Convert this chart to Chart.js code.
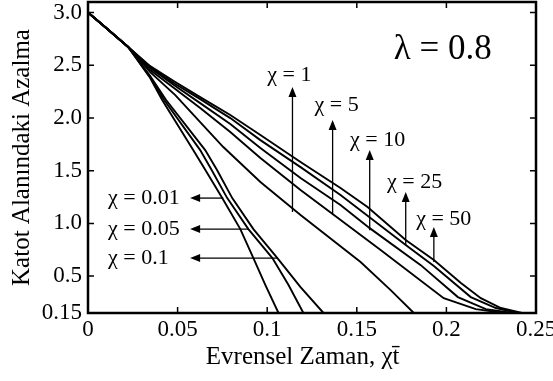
<!DOCTYPE html>
<html>
<head>
<meta charset="utf-8">
<script src="https://cdn.jsdelivr.net/npm/chart.js@4.4.1/dist/chart.umd.min.js"></script>
<style>
  html, body { margin: 0; padding: 0; background: #fff; }
  #wrap { width: 553px; height: 381px; }
</style>
</head>
<body>
<div id="wrap"><canvas id="chart" width="553" height="381"></canvas></div>
<script>
// axis ticks
var xTicks = [0, 0.05, 0.1, 0.15, 0.2, 0.25];
var xTickLabels = ['0', '0.05', '0.1', '0.15', '0.2', '0.25'];
var yTicks = [0.15, 0.5, 1.0, 1.5, 2.0, 2.5, 3.0];
var yTickLabels = ['0.15', '0.5', '1.0', '1.5', '2.0', '2.5', '3.0'];

// curves: x = evrensel zaman, y = katot alanindaki azalma
var chi001X = [0, 0.010, 0.0224, 0.0347, 0.0414, 0.0587, 0.0655, 0.0749, 0.0850, 0.0923, 0.0990, 0.1063];
var chi001Y = [3.0, 2.855, 2.673, 2.379, 2.170, 1.695, 1.506, 1.240, 0.946, 0.671, 0.415, 0.15];

var chi005X = [0, 0.010, 0.0224, 0.0347, 0.0425, 0.0626, 0.0690, 0.0777, 0.0895, 0.1029, 0.1119, 0.1202];
var chi005Y = [3.0, 2.855, 2.673, 2.388, 2.170, 1.695, 1.506, 1.240, 0.946, 0.671, 0.415, 0.15];

var chi01X = [0, 0.010, 0.0224, 0.0347, 0.0436, 0.0654, 0.0720, 0.0805, 0.0923, 0.1057, 0.1186, 0.1314];
var chi01Y = [3.0, 2.855, 2.673, 2.398, 2.170, 1.695, 1.506, 1.240, 0.946, 0.671, 0.396, 0.15];

var chi1X = [0, 0.010, 0.0224, 0.0347, 0.0487, 0.0626, 0.0755, 0.0962, 0.1186, 0.1521, 0.1689, 0.1818];
var chi1Y = [3.0, 2.855, 2.673, 2.435, 2.217, 1.961, 1.724, 1.392, 1.079, 0.633, 0.367, 0.15];

var chi5X = [0, 0.010, 0.0224, 0.0347, 0.0487, 0.0626, 0.0794, 0.0962, 0.1186, 0.1365, 0.1633, 0.1985, 0.2164, 0.2321];
var chi5Y = [3.0, 2.855, 2.673, 2.454, 2.274, 2.094, 1.866, 1.620, 1.316, 1.088, 0.747, 0.291, 0.187, 0.15];

var chi10X = [0, 0.010, 0.0224, 0.0347, 0.0487, 0.0626, 0.0794, 0.0962, 0.1186, 0.1409, 0.1572, 0.1857, 0.2064, 0.2220, 0.2371];
var chi10Y = [3.0, 2.855, 2.673, 2.473, 2.303, 2.141, 1.942, 1.714, 1.430, 1.174, 0.955, 0.604, 0.301, 0.187, 0.15];

var chi25X = [0, 0.010, 0.0224, 0.0347, 0.0487, 0.0626, 0.0794, 0.0962, 0.1186, 0.1409, 0.1773, 0.1930, 0.2136, 0.2276, 0.2399];
var chi25Y = [3.0, 2.855, 2.673, 2.483, 2.322, 2.179, 1.999, 1.790, 1.534, 1.269, 0.794, 0.595, 0.301, 0.197, 0.15];

var chi50X = [0, 0.010, 0.0224, 0.0347, 0.0487, 0.0626, 0.0794, 0.0962, 0.1186, 0.1409, 0.1560, 0.1773, 0.1930, 0.2081, 0.2192, 0.2304, 0.2422];
var chi50Y = [3.0, 2.855, 2.673, 2.492, 2.341, 2.198, 2.028, 1.838, 1.582, 1.335, 1.155, 0.842, 0.652, 0.434, 0.291, 0.197, 0.15];

var curves = [
    ['χ = 0.01', chi001X, chi001Y],
    ['χ = 0.05', chi005X, chi005Y],
    ['χ = 0.1', chi01X, chi01Y],
    ['χ = 1', chi1X, chi1Y],
    ['χ = 5', chi5X, chi5Y],
    ['χ = 10', chi10X, chi10Y],
    ['χ = 25', chi25X, chi25Y],
    ['χ = 50', chi50X, chi50Y]
];

// arrow annotations, in data units (vertical ones point up, horizontal ones point left)
var upArrows = [
    { text: 'χ = 1',  x: 0.1141, y0: 1.108, y1: 2.293, tx: 0.1124, ty: 2.407 },
    { text: 'χ = 5',  x: 0.1365, y0: 1.079, y1: 1.980, tx: 0.1387, ty: 2.122 },
    { text: 'χ = 10', x: 0.1572, y0: 0.936, y1: 1.695, tx: 0.1616, ty: 1.790 },
    { text: 'χ = 25', x: 0.1773, y0: 0.794, y1: 1.297, tx: 0.1823, ty: 1.392 },
    { text: 'χ = 50', x: 0.1930, y0: 0.633, y1: 0.965, tx: 0.1985, ty: 1.041 }
];
var leftArrows = [
    { text: 'χ = 0.01', y: 1.240, x0: 0.0755, x1: 0.0570, tx: 0.0112 },
    { text: 'χ = 0.05', y: 0.946, x0: 0.0895, x1: 0.0570, tx: 0.0112 },
    { text: 'χ = 0.1',  y: 0.671, x0: 0.1057, x1: 0.0570, tx: 0.0112 }
];

var SERIF = "'Liberation Serif', 'Times New Roman', serif";

function head(ctx, x, y, dx, dy) {
    // filled arrow head with its tip at (x, y), pointing along (dx, dy)
    var len = 10, half = 4;
    ctx.beginPath();
    ctx.moveTo(x, y);
    ctx.lineTo(x - dx * len - dy * half, y - dy * len + dx * half);
    ctx.lineTo(x - dx * len + dy * half, y - dy * len - dx * half);
    ctx.closePath();
    ctx.fill();
}

var framePlugin = {
    id: 'frame',
    afterDatasetsDraw: function(chart) {
        var ctx = chart.ctx;
        var a = chart.chartArea;
        var xs = chart.scales.x;
        var ys = chart.scales.y;
        ctx.save();
        ctx.strokeStyle = '#000';
        ctx.fillStyle = '#000';

        // inward ticks on all four sides
        ctx.lineWidth = 1.5;
        ctx.beginPath();
        xTicks.forEach(function(v) {
            var px = xs.getPixelForValue(v);
            ctx.moveTo(px, a.bottom); ctx.lineTo(px, a.bottom - 6);
            ctx.moveTo(px, a.top); ctx.lineTo(px, a.top + 6);
        });
        yTicks.forEach(function(v) {
            var py = ys.getPixelForValue(v);
            ctx.moveTo(a.left, py); ctx.lineTo(a.left + 6, py);
            ctx.moveTo(a.right, py); ctx.lineTo(a.right - 6, py);
        });
        ctx.stroke();

        ctx.lineWidth = 2.5;
        ctx.strokeRect(a.left, a.top, a.right - a.left, a.bottom - a.top);

        // arrows and labels
        ctx.lineWidth = 1.3;
        ctx.font = '22px ' + SERIF;
        ctx.textBaseline = 'middle';
        upArrows.forEach(function(r) {
            var px = xs.getPixelForValue(r.x);
            var p0 = ys.getPixelForValue(r.y0);
            var p1 = ys.getPixelForValue(r.y1);
            ctx.beginPath();
            ctx.moveTo(px, p0); ctx.lineTo(px, p1 + 8);
            ctx.stroke();
            head(ctx, px, p1, 0, -1);
            ctx.textAlign = 'center';
            ctx.fillText(r.text, xs.getPixelForValue(r.tx), ys.getPixelForValue(r.ty));
        });
        leftArrows.forEach(function(r) {
            var py = ys.getPixelForValue(r.y);
            var p0 = xs.getPixelForValue(r.x0);
            var p1 = xs.getPixelForValue(r.x1);
            ctx.beginPath();
            ctx.moveTo(p0, py); ctx.lineTo(p1 + 8, py);
            ctx.stroke();
            head(ctx, p1, py, -1, 0);
            ctx.textAlign = 'left';
            ctx.fillText(r.text, xs.getPixelForValue(r.tx), py);
        });

        ctx.font = '35px ' + SERIF;
        ctx.textAlign = 'center';
        ctx.fillText('λ = 0.8', xs.getPixelForValue(0.198), ys.getPixelForValue(2.644));
        ctx.restore();
    }
};

var datasets = curves.map(function(c) {
    return {
        label: c[0],
        data: c[1].map(function(x, i) { return { x: x, y: c[2][i] }; }),
        showLine: true,
        borderColor: '#000',
        borderWidth: 1.9,
        pointRadius: 0,
        tension: 0
    };
});

Chart.defaults.font.family = SERIF;
Chart.defaults.color = '#000';

new Chart(document.getElementById('chart').getContext('2d'), {
    type: 'scatter',
    data: { datasets: datasets },
    options: {
        responsive: false,
        animation: false,
        devicePixelRatio: 1,
        layout: { padding: { top: 2, right: 17, left: 0, bottom: 0 } },
        plugins: {
            legend: { display: false },
            tooltip: { enabled: false }
        },
        scales: {
            x: {
                type: 'linear',
                min: 0,
                max: 0.25,
                grid: { display: false, drawTicks: false },
                border: { display: false },
                afterBuildTicks: function(scale) {
                    scale.ticks = xTicks.map(function(v) { return { value: v }; });
                },
                afterFit: function(scale) {
                    scale.height = 68;
                    scale.paddingLeft = 0;
                    scale.paddingRight = 0;
                },
                ticks: {
                    padding: 3,
                    maxRotation: 0,
                    font: { size: 23 },
                    callback: function(v) { return xTickLabels[xTicks.indexOf(v)]; }
                },
                title: {
                    display: true,
                    text: 'Evrensel Zaman, χt\u0304\u00a0\u00a0\u00a0',
                    font: { size: 25 },
                    padding: { top: 0, bottom: 9 }
                }
            },
            y: {
                type: 'linear',
                min: 0.15,
                max: 3.1,
                grid: { display: false, drawTicks: false },
                border: { display: false },
                afterBuildTicks: function(scale) {
                    scale.ticks = yTicks.map(function(v) { return { value: v }; });
                },
                afterFit: function(scale) {
                    scale.width = 88;
                    scale.paddingTop = 0;
                    scale.paddingBottom = 0;
                },
                ticks: {
                    padding: 6,
                    font: { size: 23 },
                    callback: function(v) { return yTickLabels[yTicks.indexOf(v)]; }
                },
                title: {
                    display: true,
                    text: 'Katot Alanındaki Azalma',
                    font: { size: 25 },
                    padding: { top: 7, bottom: 0 }
                }
            }
        }
    },
    plugins: [framePlugin]
});
</script>
</body>
</html>
